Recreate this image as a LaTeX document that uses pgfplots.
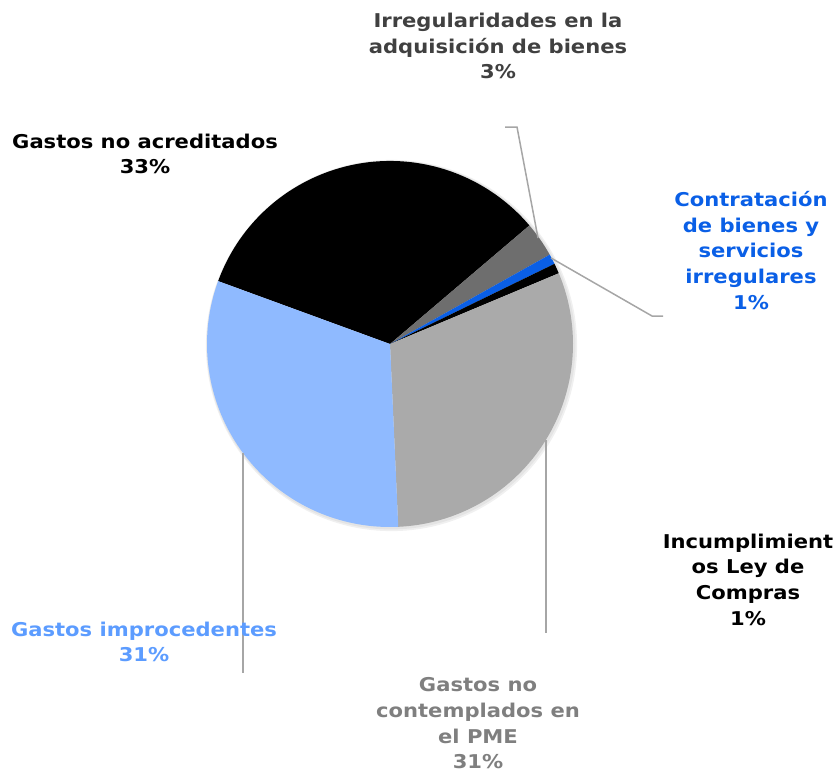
\documentclass[border=0pt]{standalone}
\usepackage{pgfplots}
\usepackage{pgfplotstable}
\pgfplotsset{compat=1.18}
\usepackage{fontspec}
\setmainfont{DejaVu Sans}[FakeStretch=1.11]
\definecolor{s0}{HTML}{000000}
\definecolor{s1}{HTML}{6E6E6E}
\definecolor{s2}{HTML}{0A5FE6}
\definecolor{s3}{HTML}{000000}
\definecolor{s4}{HTML}{AAAAAA}
\definecolor{s5}{HTML}{8FBAFF}
\definecolor{lead}{HTML}{A6A6A6}
\definecolor{tIrr}{HTML}{404040}
\definecolor{tCon}{HTML}{0A5FE6}
\definecolor{tCont}{HTML}{7F7F7F}
\definecolor{tImp}{HTML}{5C9CFF}
% slices clockwise from the start angle (degrees clockwise from 12 o'clock)
\pgfplotstableread{
idx val
0 33.2
1 3.1
2 0.9
3 0.9
4 30.6
5 31.3
}\piedata
\begin{document}%
\begin{tikzpicture}
\xdef\acc{290.1}%
\pgfplotsforeachungrouped \i in {0,...,5}{%
  \pgfplotstablegetelem{\i}{val}\of\piedata
  \pgfmathsetmacro\va{90-\acc}%
  \pgfmathsetmacro\vb{90-\acc-3.6*\pgfplotsretval}%
  \expandafter\xdef\csname sA\i\endcsname{\va}%
  \expandafter\xdef\csname sB\i\endcsname{\vb}%
  \pgfmathsetmacro\nacc{\acc+3.6*\pgfplotsretval}%
  \xdef\acc{\nacc}%
}%
\begin{axis}[hide axis, scale only axis, x=0.5pt, y=0.5pt,
  xmin=0, xmax=839, ymin=-773, ymax=0, clip=false]
  \path (axis cs:0,0) rectangle (axis cs:839,-773);
  % soft shadow
  \fill[black, opacity=0.06] (axis cs:391.5,-345.5) circle[radius=92.8pt];
  \fill[black, opacity=0.05] (axis cs:391,-345) circle[radius=92.2pt];
  \pgfplotsinvokeforeach{0,...,5}{
    \fill[s#1] (axis cs:390,-344) -- ++(\csname sA#1\endcsname:91.5pt)
      arc[start angle=\csname sA#1\endcsname, end angle=\csname sB#1\endcsname, radius=91.5pt] -- cycle;
  }
  % leader lines
  \addplot[lead, line width=0.75pt, mark=none] coordinates {(505,-127) (517,-127) (538,-238)};
  \addplot[lead, line width=0.75pt, mark=none] coordinates {(663,-316) (652,-316) (551,-258)};
  \addplot[lead, line width=0.75pt, mark=none] coordinates {(546,-440) (546,-633)};
  \addplot[lead, line width=0.75pt, mark=none] coordinates {(243,-453) (243,-673)};
  % labels
  \begin{scope}[every node/.style={font=\fontsize{9.5}{12.85}\selectfont\bfseries, align=center, inner sep=0pt}]
  \node[text=tIrr] at (axis cs:498,-46) {Irregularidades en la\\adquisición de bienes\\3\%};
  \node[text=black] at (axis cs:145,-154) {Gastos no acreditados\\33\%};
  \node[text=tCon] at (axis cs:751,-250.5) {Contratación\\de bienes y\\servicios\\irregulares\\1\%};
  \node[text=black] at (axis cs:748,-579.5) {Incumplimient\\os Ley de\\Compras\\1\%};
  \node[text=tCont] at (axis cs:478,-723.5) {Gastos no\\contemplados en\\el PME\\31\%};
  \node[text=tImp] at (axis cs:144,-642) {Gastos improcedentes\\31\%};
  \end{scope}
\end{axis}
\end{tikzpicture}%
\end{document}
